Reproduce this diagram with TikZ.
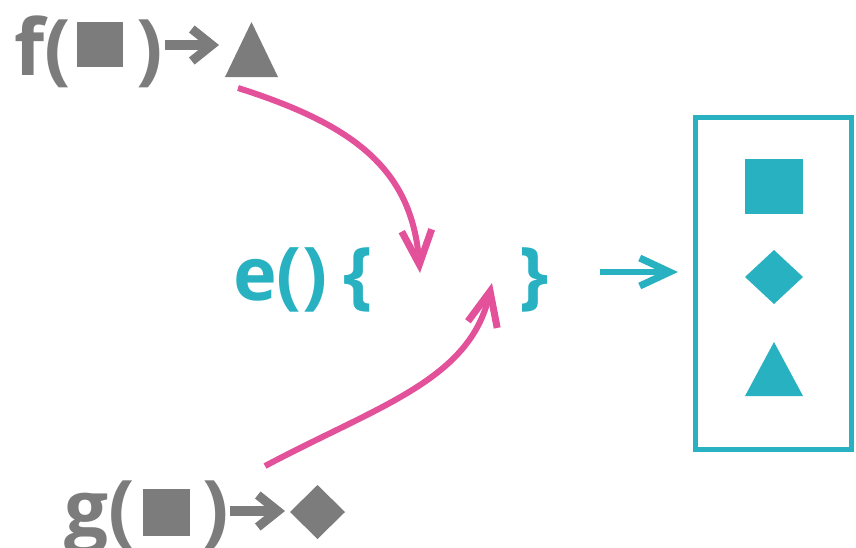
\documentclass[tikz,border=0pt]{standalone}
\usepackage{fontspec}
\setmainfont{Open Sans}
\usetikzlibrary{arrows.meta}
\definecolor{fgray}{HTML}{7C7C7C}
\definecolor{tealc}{HTML}{27B1C1}
\definecolor{pinkc}{HTML}{E2519A}
\tikzset{
  gtext/.style={inner sep=0pt, anchor=base west, text=fgray, font=\fontsize{78}{78}\selectfont\bfseries},
  ttext/.style={inner sep=0pt, anchor=base west, text=tealc, font=\fontsize{74}{74}\selectfont\bfseries},
  garrow/.style={draw=fgray, line width=10pt, -{Straight Barb[length=20pt,width=32pt,line width=9pt]}},
  tarrow/.style={draw=tealc, line width=6pt, -{Straight Barb[length=30pt,width=28pt,line width=7pt]}},
  parrow/.style={draw=pinkc, line width=6pt, -{Straight Barb[length=34pt,width=30pt,line width=7pt]}},
}
\begin{document}
\begin{tikzpicture}[x=1pt,y=-1pt]
\useasboundingbox (0,0) rectangle (856,547);
% row f
\node[gtext] (fopen) at (14,75) {f(};
\fill[fgray] (77,22) rectangle (123,67);
\node[gtext] (fclose) at (136,75) {)};
\coordinate (fa1) at (165,45); \coordinate (fa2) at (219,45);
\draw[garrow] (fa1) -- (fa2);
\fill[fgray] (225,77) -- (251.5,22) -- (278,77) -- cycle;
% row g
\node[gtext] (gopen) at (64,536) {g(};
\fill[fgray] (143,489) rectangle (190,536);
\node[gtext] (gclose) at (202,536) {)};
\coordinate (ga1) at (230,511); \coordinate (ga2) at (285,511);
\draw[garrow] (ga1) -- (ga2);
\fill[fgray] (290,512) -- (317.5,485) -- (345,512) -- (317.5,539) -- cycle;
% e() { }
\node[ttext] (efun) at (233,300) {e()};
\node[ttext] (lbrace) at (343,300) {\{};
\node[ttext] (rbrace) at (519,300) {\}};
% result box
\node[draw=tealc, line width=5pt, minimum width=156pt, minimum height=332pt, inner sep=0pt] (box) at (773,283) {};
\fill[tealc] (745,159) rectangle (803,214);
\fill[tealc] (745,277) -- (774,250) -- (803,277) -- (774,304) -- cycle;
\fill[tealc] (745,396) -- (774,342) -- (803,396) -- cycle;
\coordinate (ta1) at (600,272); \coordinate (ta2) at (678,272);
\draw[tarrow] (ta1) -- (ta2);
% pink arrows
\coordinate (p1s) at (238,88); \coordinate (p1e) at (420,273);
\coordinate (p2s) at (265,466); \coordinate (p2e) at (492,283);
\draw[parrow] (p1s) .. controls (355,125) and (412,170) .. (p1e);
\draw[parrow] (p2s) .. controls (380,405) and (470,380) .. (p2e);
\end{tikzpicture}
\end{document}
